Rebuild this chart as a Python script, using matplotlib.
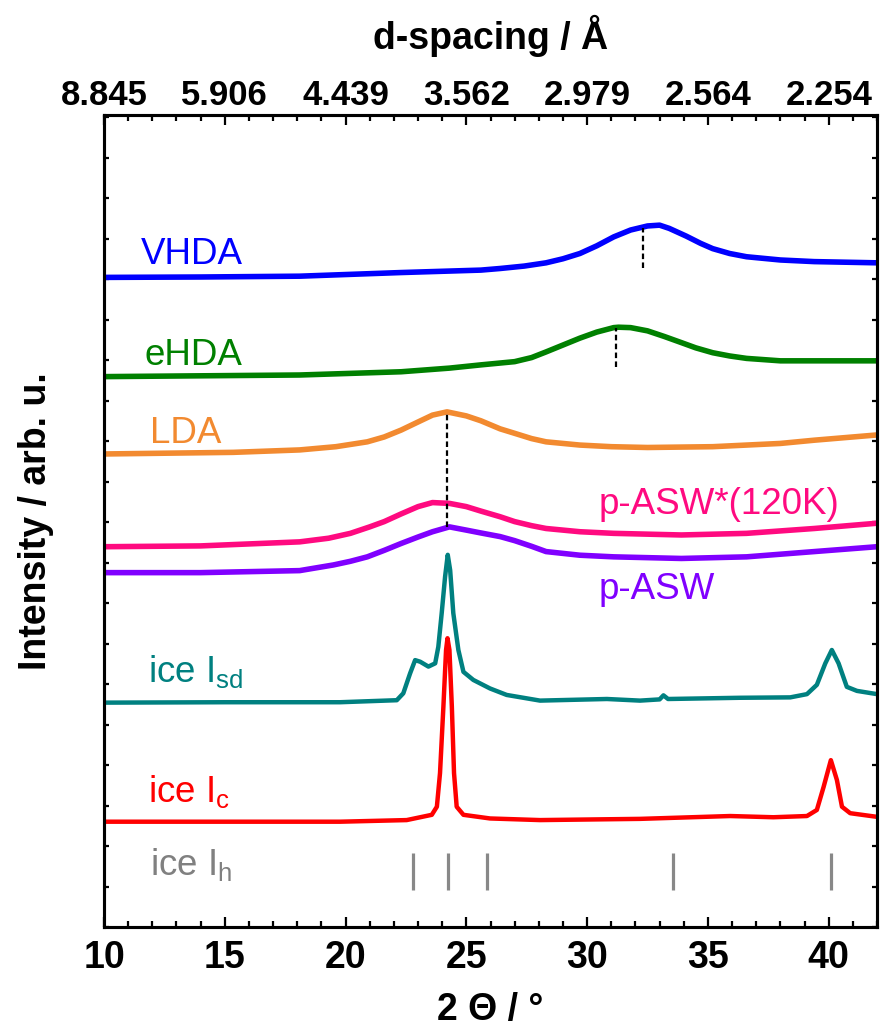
import matplotlib
matplotlib.use('Agg')
import matplotlib.pyplot as plt
from matplotlib.ticker import MultipleLocator, FixedLocator

plt.rcParams['font.family'] = ['Liberation Sans', 'DejaVu Sans']
plt.rcParams['mathtext.fontset'] = 'custom'
plt.rcParams['mathtext.rm'] = 'Liberation Sans'
plt.rcParams['mathtext.it'] = 'Liberation Sans'
plt.rcParams['mathtext.bf'] = 'Liberation Sans:bold'
plt.rcParams['mathtext.default'] = 'regular'

# ---------------- data (2theta in degrees, intensity in arb. u., offset stacked) ----
vhda_x = [10, 14, 18.1, 22.3, 25.6, 26.4, 27.4, 28.3, 29.0, 29.7, 30.4, 31.1, 31.8, 32.5, 33.0, 33.4,
          34.1, 34.7, 35.2, 35.9, 36.6, 38.0, 39.4, 42]
vhda_y = [16.04, 16.05, 16.07, 16.16, 16.22, 16.26, 16.32, 16.40, 16.50, 16.63, 16.82, 17.04, 17.21,
          17.31, 17.33, 17.25, 17.06, 16.88, 16.75, 16.63, 16.55, 16.47, 16.43, 16.40]

ehda_x = [10, 14, 18.1, 22.3, 24.3, 25.6, 27.0, 27.7, 28.3, 29.0, 29.7, 30.4, 31.1, 31.3, 31.8, 32.5,
          33.2, 33.9, 34.5, 35.2, 35.9, 36.6, 38.0, 39.4, 42]
ehda_y = [13.59, 13.61, 13.63, 13.71, 13.80, 13.88, 13.96, 14.06, 14.20, 14.37, 14.54, 14.69, 14.80,
          14.81, 14.80, 14.72, 14.58, 14.43, 14.30, 14.18, 14.10, 14.04, 13.98, 13.98, 13.98]

lda_x = [10, 15.35, 18.1, 19.6, 20.9, 21.6, 22.3, 23.0, 23.6, 24.2, 25.0, 25.6, 26.4, 27.0, 27.7,
         28.3, 29.7, 31.0, 32.5, 35.2, 38.0, 39.4, 42]
lda_y = [11.68, 11.72, 11.78, 11.86, 11.98, 12.10, 12.27, 12.47, 12.64, 12.72, 12.62, 12.50, 12.30,
         12.19, 12.06, 11.98, 11.90, 11.86, 11.84, 11.86, 11.94, 12.02, 12.15]

paswstar_x = [10, 14.0, 18.1, 19.3, 20.2, 21.0, 21.6, 22.3, 23.0, 23.6, 24.3, 25.0, 25.6, 26.4,
              27.0, 27.7, 28.3, 29.7, 31.1, 33.9, 36.6, 39.4, 42]
paswstar_y = [9.39, 9.41, 9.51, 9.60, 9.72, 9.88, 10.01, 10.20, 10.38, 10.48, 10.46, 10.38, 10.27,
              10.13, 10.01, 9.91, 9.84, 9.76, 9.72, 9.68, 9.72, 9.84, 9.97]

pasw_x = [10, 14.0, 18.1, 19.5, 20.2, 20.9, 21.6, 22.3, 23.0, 23.6, 24.3, 25.0, 25.6, 26.4, 27.0,
          27.7, 28.3, 29.7, 31.1, 33.9, 36.6, 39.4, 42]
pasw_y = [8.75, 8.75, 8.80, 8.94, 9.03, 9.14, 9.30, 9.47, 9.63, 9.76, 9.88, 9.80, 9.73, 9.64, 9.54,
          9.40, 9.27, 9.18, 9.14, 9.10, 9.14, 9.27, 9.39]

isd_x = [10, 15, 19.77, 22.12, 22.39, 22.67, 22.88, 23.09, 23.43, 23.71, 23.84, 23.98, 24.12, 24.23,
         24.33, 24.46, 24.67, 24.88, 25.29, 25.98, 26.67, 28.05, 30.82, 32.19, 33.0, 33.16, 33.35, 36.33,
         38.41, 39.1, 39.51, 39.86, 40.13, 40.41, 40.75, 41.17, 42]
isd_y = [5.54, 5.55, 5.55, 5.60, 5.77, 6.26, 6.59, 6.55, 6.43, 6.51, 6.92, 7.75, 8.65, 9.19,
         8.81, 7.75, 6.84, 6.30, 6.10, 5.89, 5.73, 5.59, 5.63, 5.59, 5.62, 5.72, 5.63, 5.66,
         5.67, 5.75, 5.98, 6.51, 6.84, 6.51, 5.93, 5.83, 5.75]

ic_x = [10, 15, 19.77, 22.53, 23.09, 23.57, 23.78, 23.91, 24.05, 24.16, 24.22, 24.30, 24.40, 24.49,
        24.60, 24.88, 25.98, 28.05, 32.19, 35.92, 37.71, 39.1, 39.51, 39.79, 40.09, 40.34, 40.55, 40.89, 42]
ic_y = [2.60, 2.60, 2.60, 2.64, 2.71, 2.77, 2.97, 3.80, 5.44, 6.84, 7.13, 6.84, 5.44, 3.80,
        2.97, 2.77, 2.68, 2.64, 2.67, 2.74, 2.71, 2.74, 2.89, 3.46, 4.12, 3.63, 2.97, 2.81, 2.72]

# ice Ih reference reflections
ih_pos = [22.8, 24.25, 25.85, 33.55, 40.1]
ih_low, ih_high = 0.91, 1.83

# peak-position markers (dashed)
peak_x = [32.3, 31.2, 24.2]
peak_top = [17.26, 14.79, 12.69]
peak_bottom = [16.27, 13.83, 9.88]

x_ticks = [10, 15, 20, 25, 30, 35, 40]
d_labels = ['8.845', '5.906', '4.439', '3.562', '2.979', '2.564', '2.254']

series = [
    (vhda_x, vhda_y, '#0000FF', 'VHDA', 11.53, 16.37, 4.0),
    (ehda_x, ehda_y, '#008000', 'eHDA', 11.66, 13.88, 4.0),
    (lda_x, lda_y, '#F28A30', 'LDA', 11.9, 11.95, 4.0),
    (paswstar_x, paswstar_y, '#FF0A80', 'p-ASW*(120K)', 30.46, 10.20, 4.0),
    (pasw_x, pasw_y, '#8000FF', 'p-ASW', 30.46, 8.10, 4.0),
    (isd_x, isd_y, '#008080', 'ice I$_{sd}$', 11.82, 6.06, 3.2),
    (ic_x, ic_y, '#FF0000', 'ice I$_{c}$', 11.82, 3.09, 3.2),
]

W, H = 883, 1034
fig = plt.figure(figsize=(W / 100, H / 100), dpi=100)
ax = fig.add_axes([104 / W, (H - 927) / H, (877 - 104) / W, (927 - 115) / H])

for xs, ys, col, lab, tx, ty, lw in series:
    ax.plot(xs, ys, color=col, lw=lw, solid_joinstyle='round', solid_capstyle='butt')
    ax.text(tx, ty, lab, color=col, fontsize=26.5, ha='left', va='baseline')

ax.vlines(ih_pos, ih_low, ih_high, color='#888888', lw=2.3)
ax.text(11.9, 1.28, 'ice I$_{h}$', color='#808080', fontsize=26.5, ha='left', va='baseline')

ax.vlines(peak_x, peak_bottom, peak_top, color='black', lw=1.6, linestyles=(0, (2.5, 1.5)))

ax.set_xlim(10, 42)
ax.set_ylim(0, 20.05)
ax.xaxis.set_major_locator(FixedLocator(x_ticks))
ax.xaxis.set_minor_locator(MultipleLocator(1))
ax.yaxis.set_major_locator(MultipleLocator(1))
ax.tick_params(axis='x', which='major', direction='in', length=7, width=1.6, labelsize=27, pad=9)
ax.tick_params(axis='x', which='minor', direction='in', length=4, width=1.6)
ax.tick_params(axis='y', which='major', direction='in', length=3.5, width=1.6, left=True, right=True,
               labelleft=False)
for lab in ax.get_xticklabels():
    lab.set_fontweight('bold')
for s in ax.spines.values():
    s.set_linewidth(2.2)

ax.set_xlabel('2 Θ / °', fontsize=27, fontweight='bold', labelpad=12)
ax.set_ylabel('Intensity / arb. u.', fontsize=27, fontweight='bold', labelpad=36)

ax2 = ax.twiny()
ax2.set_xlim(10, 42)
ax2.xaxis.set_major_locator(FixedLocator(x_ticks))
ax2.set_xticklabels(d_labels)
ax2.xaxis.set_minor_locator(MultipleLocator(1))
ax2.tick_params(axis='x', which='major', direction='in', length=7, width=1.6, labelsize=25, pad=2)
ax2.tick_params(axis='x', which='minor', direction='in', length=4, width=1.6)
for lab in ax2.get_xticklabels():
    lab.set_fontweight('bold')
for s in ax2.spines.values():
    s.set_linewidth(2.2)
ax2.set_xlabel('d-spacing / Å', fontsize=27, fontweight='bold', labelpad=22)

fig.savefig('out.png', dpi=100)
